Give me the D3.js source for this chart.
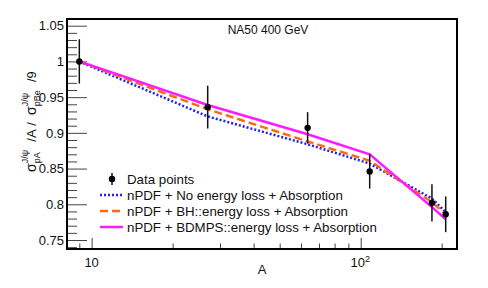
<!DOCTYPE html>
<html>
<head>
<meta charset="utf-8">
<script src="https://cdn.jsdelivr.net/npm/d3@7"></script>
<style>
  body { margin: 0; background: #fff; }
  svg { font-family: "Liberation Sans", Arial, sans-serif; }
</style>
</head>
<body>
<svg width="488" height="288"></svg>
<script>
// nucleus mass numbers (Be, Al, Cu, Ag, W, Pb)
const massA = [9, 27, 63.5, 108, 184, 207];
const ratio = [1.0, 0.936, 0.907, 0.846, 0.802, 0.786];
const ratioErr = [0.031, 0.030, 0.022, 0.024, 0.026, 0.025];

// model curves
const noEloss = [1.0, 0.923, 0.884, 0.857, 0.808, 0.789];
const bhEloss = [1.0, 0.933, 0.888, 0.861, 0.803, 0.786];
const bdmpsEloss = [1.0, 0.939, 0.898, 0.870, 0.796, 0.779];

const yMajor = [0.75, 0.8, 0.85, 0.9, 0.95, 1, 1.05];
const xMajor = [10, 100];
const xMinor = [9, 20, 30, 40, 50, 60, 70, 80, 90, 200];

const series = [
  { name: 'nPDF + No energy loss + Absorption', values: noEloss, color: '#1f1fff', dash: '2,2' },
  { name: 'nPDF + BH::energy loss + Absorption', values: bhEloss, color: '#ff6a10', dash: '8,4' },
  { name: 'nPDF + BDMPS::energy loss + Absorption', values: bdmpsEloss, color: '#ff1aff', dash: null }
];

const svg = d3.select('svg');
const width = 488;
const height = 288;
const margin = { top: 19, right: 31, bottom: 39, left: 67 };
const innerWidth = width - margin.left - margin.right;
const innerHeight = height - margin.top - margin.bottom;

const xScale = d3.scaleLog()
  .domain([8.1, 228])
  .range([0, innerWidth]);

const yScale = d3.scaleLinear()
  .domain([0.7374, 1.0594])
  .range([innerHeight, 0]);

const g = svg.append('g')
  .attr('transform', `translate(${margin.left},${margin.top})`);

const tickOnly = sel => {
  sel.select('.domain').remove();
  sel.selectAll('text').remove();
  sel.selectAll('line').attr('stroke', '#444');
};

// y axis ticks
const yMinor = d3.range(74, 106).map(d => d / 100)
  .filter(d => !yMajor.some(m => Math.abs(m - d) < 1e-6));

g.append('g')
  .call(d3.axisLeft(yScale).tickValues(yMinor).tickSize(-10))
  .call(tickOnly);

g.append('g')
  .attr('class', 'yAxis')
  .call(d3.axisLeft(yScale).tickValues(yMajor).tickSize(-20).tickPadding(3)
    .tickFormat(d => d3.format('')(+d.toFixed(2))))
  .call(s => s.select('.domain').remove())
  .call(s => s.selectAll('line').attr('stroke', '#444'))
  .selectAll('text')
    .attr('font-size', 13)
    .attr('font-family', '"Liberation Sans", Arial, sans-serif')
    .attr('fill', '#111');

// x axis ticks
g.append('g')
  .attr('transform', `translate(0,${innerHeight})`)
  .call(d3.axisBottom(xScale).tickValues(xMinor).tickSize(-5.5))
  .call(tickOnly);

g.append('g')
  .attr('transform', `translate(0,${innerHeight})`)
  .call(d3.axisBottom(xScale).tickValues(xMajor).tickSize(-11))
  .call(tickOnly);

g.append('text')
  .attr('x', xScale(10))
  .attr('y', innerHeight + 18)
  .attr('text-anchor', 'middle')
  .attr('font-size', 13)
  .attr('fill', '#111')
  .text('10');

const hundred = g.append('text')
  .attr('x', xScale(100) - 0.5)
  .attr('y', innerHeight + 18)
  .attr('text-anchor', 'middle')
  .attr('font-size', 13)
  .attr('fill', '#111');
hundred.append('tspan').text('10');
hundred.append('tspan').attr('font-size', 9).attr('dy', -5).text('2');

g.append('text')
  .attr('x', innerWidth / 2)
  .attr('y', innerHeight + 25)
  .attr('text-anchor', 'middle')
  .attr('font-size', 13)
  .attr('fill', '#111')
  .text('A');

// model curves
const line = values => d3.line()
  .x((d, i) => xScale(massA[i]))
  .y(d => yScale(d))(values);

series.forEach(s => {
  g.append('path')
    .attr('d', line(s.values))
    .attr('fill', 'none')
    .attr('stroke', s.color)
    .attr('stroke-width', 2.5)
    .attr('stroke-dasharray', s.dash);
});

// data points
const points = massA.map((a, i) => ({ a, v: ratio[i], e: ratioErr[i] }));
g.selectAll('.errbar').data(points)
  .enter().append('line')
    .attr('class', 'errbar')
    .attr('x1', d => xScale(d.a))
    .attr('x2', d => xScale(d.a))
    .attr('y1', d => yScale(d.v + d.e))
    .attr('y2', d => yScale(d.v - d.e))
    .attr('stroke', '#111')
    .attr('stroke-width', 1.5);
g.selectAll('.pt').data(points)
  .enter().append('circle')
    .attr('class', 'pt')
    .attr('cx', d => xScale(d.a))
    .attr('cy', d => yScale(d.v))
    .attr('r', 3.2)
    .attr('fill', '#000');

// frame
g.append('rect')
  .attr('width', innerWidth)
  .attr('height', innerHeight)
  .attr('fill', 'none')
  .attr('stroke', '#000')
  .attr('stroke-width', 2);

// title
g.append('text')
  .attr('x', 268 - margin.left)
  .attr('y', 34 - margin.top)
  .attr('text-anchor', 'middle')
  .attr('font-size', 12)
  .attr('fill', '#111')
  .text('NA50 400 GeV');

// legend
const legend = svg.append('g');
const rowY = [179, 195, 211, 227];
legend.append('line')
  .attr('x1', 112).attr('x2', 112)
  .attr('y1', rowY[0] - 6).attr('y2', rowY[0] + 6)
  .attr('stroke', '#111').attr('stroke-width', 1.5);
legend.append('circle')
  .attr('cx', 112).attr('cy', rowY[0]).attr('r', 3.2).attr('fill', '#000');
legend.append('text')
  .attr('x', 127).attr('y', rowY[0] + 4.7)
  .attr('font-size', 13.3).attr('fill', '#111')
  .text('Data points');
series.forEach((s, i) => {
  legend.append('line')
    .attr('x1', 100).attr('x2', 123)
    .attr('y1', rowY[i + 1]).attr('y2', rowY[i + 1])
    .attr('stroke', s.color)
    .attr('stroke-width', 2.5)
    .attr('stroke-dasharray', s.dash);
  legend.append('text')
    .attr('x', 127).attr('y', rowY[i + 1] + 4.7)
    .attr('font-size', 13.3).attr('fill', '#111')
    .text(s.name);
});

// y axis title, built piece by piece (stacked sub/superscripts)
const yTitle = svg.append('g')
  .attr('transform', 'translate(36,172) rotate(-90)');
let cursor = 0;
const putText = (str, size, dy) => {
  const t = yTitle.append('text')
    .attr('x', cursor).attr('y', dy)
    .attr('font-size', size).attr('fill', '#111')
    .text(str);
  return t.node().getComputedTextLength();
};
const stacked = (sup, sub) => {
  const w1 = putText(sup, 9, -8.5);
  const w2 = putText(sub, 9, 3.5);
  cursor += Math.max(w1, w2) + 1;
};
const nb = '\u00a0';
cursor += putText('\u03c3', 14, 0);
stacked('J/\u03c8', 'pA');
cursor += putText(nb + nb + '/A' + nb + '/' + nb + nb, 13, 0);
cursor += putText('\u03c3', 14, 0);
stacked('J/\u03c8', 'pBe');
cursor += putText(nb + nb + '/9', 13, 0);
</script>
</body>
</html>
